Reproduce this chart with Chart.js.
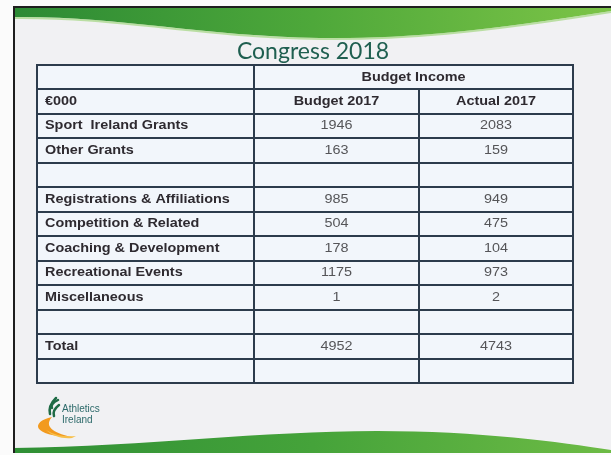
<!DOCTYPE html>
<html>
<head>
<meta charset="utf-8">
<script src="https://cdn.jsdelivr.net/npm/chart.js@4.4.1/dist/chart.umd.min.js"></script>
<style>
  html, body { margin: 0; padding: 0; background: #fbfbfb; }
  canvas { display: block; }
</style>
</head>
<body>
<canvas id="c" width="611" height="455"></canvas>
<script>
// ---------------- DATA ----------------
const chartTitle = 'Congress 2018';
const groupHeader = 'Budget Income';
const unitLabel = '€000';
const seriesNames = ['Budget 2017', 'Actual 2017'];
const categories = [
  'Sport  Ireland Grants',
  'Other Grants',
  '',
  'Registrations & Affiliations',
  'Competition & Related',
  'Coaching & Development',
  'Recreational Events',
  'Miscellaneous',
  '',
  'Total',
  ''
];
const budget2017 = [1946, 163, null, 985, 504, 178, 1175, 1, null, 4952, null];
const actual2017 = [2083, 159, null, 949, 475, 104, 973, 2, null, 4743, null];
const logoText = ['Athletics', 'Ireland'];

// ---------------- LAYOUT (not data) ----------------
const COL_EDGES = [0, 217, 382, 536];   // table column boundaries in table units
const HEADER_ROWS = 2;
const N_ROWS = HEADER_ROWS + categories.length;
const TEXT_STRETCH = 1.2;
const LINE_COLOR = '#2d3c4c';

function colCenter(c) { return (COL_EDGES[c] + COL_EDGES[c + 1]) / 2; }
function toPoints(values, col) {
  const pts = [];
  values.forEach((v, i) => {
    if (v !== null && v !== undefined) pts.push({ x: colCenter(col), y: HEADER_ROWS + i + 0.5, v: v });
  });
  return pts;
}

function stretchedText(ctx, text, x, y, align, sx) {
  ctx.save();
  ctx.translate(x, y);
  ctx.scale(sx, 1);
  ctx.textAlign = align;
  ctx.textBaseline = 'middle';
  ctx.fillText(text, 0, 0);
  ctx.restore();
}

const slidePlugin = {
  id: 'slide',
  beforeDraw(chart) {
    const ctx = chart.ctx;
    const W = chart.width, H = chart.height;
    ctx.save();
    ctx.fillStyle = '#fbfbfb';
    ctx.fillRect(0, 0, W, H);
    // slide body
    ctx.fillStyle = '#f1f1f3';
    ctx.fillRect(14, 7, W - 14, 446);
    // top swoosh
    let g = ctx.createLinearGradient(14, 0, W, 0);
    g.addColorStop(0, '#2c8a34');
    g.addColorStop(0.5, '#4ea83a');
    g.addColorStop(1, '#7cc447');
    ctx.fillStyle = g;
    ctx.beginPath();
    ctx.moveTo(14, 7);
    ctx.lineTo(W, 7);
    ctx.lineTo(W, 11);
    ctx.bezierCurveTo(480, 32, 400, 39, 320, 38);
    ctx.bezierCurveTo(200, 36, 120, 16, 14, 17);
    ctx.closePath();
    ctx.fill();
    // lighter lower edge of top swoosh
    ctx.strokeStyle = 'rgba(150,210,110,0.6)';
    ctx.lineWidth = 2;
    ctx.beginPath();
    ctx.moveTo(W, 12);
    ctx.bezierCurveTo(480, 33, 400, 40, 320, 39);
    ctx.bezierCurveTo(200, 37, 120, 17, 14, 18);
    ctx.stroke();
    // bottom swoosh
    g = ctx.createLinearGradient(14, 0, W, 0);
    g.addColorStop(0, '#2f8f35');
    g.addColorStop(0.5, '#45a33a');
    g.addColorStop(1, '#6dbb45');
    ctx.fillStyle = g;
    ctx.beginPath();
    ctx.moveTo(14, 453);
    ctx.lineTo(14, 448);
    ctx.bezierCurveTo(150, 446, 260, 431, 377, 431);
    ctx.bezierCurveTo(480, 431, 560, 442, W, 450);
    ctx.lineTo(W, 453);
    ctx.closePath();
    ctx.fill();
    // slide frame lines
    ctx.strokeStyle = '#1e1e1e';
    ctx.lineWidth = 2;
    ctx.beginPath();
    ctx.moveTo(14, 453);
    ctx.lineTo(14, 7);
    ctx.lineTo(W, 7);
    ctx.stroke();
    // logo: orange swoosh
    ctx.fillStyle = '#f29a1f';
    ctx.beginPath();
    ctx.moveTo(52, 417);
    ctx.bezierCurveTo(30, 422, 32, 436, 72, 437);
    ctx.bezierCurveTo(58, 434, 42, 428, 52, 417);
    ctx.closePath();
    ctx.fill();
    ctx.fillStyle = '#f7c04a';
    ctx.beginPath();
    ctx.moveTo(46, 430);
    ctx.bezierCurveTo(56, 436, 66, 437, 76, 436);
    ctx.lineTo(72, 438);
    ctx.bezierCurveTo(62, 439, 52, 436, 46, 430);
    ctx.fill();
    // logo: green flame
    ctx.strokeStyle = '#1f6b45';
    ctx.lineWidth = 2.5;
    ctx.lineCap = 'round';
    [[50, 414, 56, 398], [52, 408, 58, 400], [54, 416, 59, 405]].forEach(s => {
      ctx.beginPath();
      ctx.moveTo(s[0], s[1]);
      ctx.quadraticCurveTo(s[0] - 2, (s[1] + s[3]) / 2, s[2], s[3]);
      ctx.stroke();
    });
    ctx.fillStyle = '#2d6a6a';
    ctx.font = '10px "Liberation Sans", Arial, sans-serif';
    ctx.textAlign = 'left';
    ctx.textBaseline = 'alphabetic';
    ctx.fillText(logoText[0], 62, 412);
    ctx.fillText(logoText[1], 62, 423);
    // title
    ctx.fillStyle = '#1f5f50';
    ctx.font = '23px Lato, "Open Sans", sans-serif';
    ctx.textAlign = 'center';
    ctx.fillText(chartTitle, 313, 59);
    // table background
    const a = chart.chartArea;
    ctx.fillStyle = '#f2f6fb';
    ctx.fillRect(a.left, a.top, a.right - a.left, a.bottom - a.top);
    ctx.restore();
  },
  afterDatasetsDraw(chart) {
    const ctx = chart.ctx;
    const xs = chart.scales.x, ys = chart.scales.y;
    const L = xs.getPixelForValue(COL_EDGES[0]);
    const R = xs.getPixelForValue(COL_EDGES[COL_EDGES.length - 1]);
    const T = ys.getPixelForValue(0);
    const B = ys.getPixelForValue(N_ROWS);
    ctx.save();
    ctx.strokeStyle = LINE_COLOR;
    ctx.lineWidth = 2;
    // horizontal lines
    for (let r = 0; r <= N_ROWS; r++) {
      const y = Math.round(ys.getPixelForValue(r));
      ctx.beginPath();
      ctx.moveTo(L - 1, y);
      ctx.lineTo(R + 1, y);
      ctx.stroke();
    }
    // vertical lines
    COL_EDGES.forEach((e, i) => {
      const x = Math.round(xs.getPixelForValue(e));
      const top = (i === 2) ? ys.getPixelForValue(1) : T;
      ctx.beginPath();
      ctx.moveTo(x, top);
      ctx.lineTo(x, B);
      ctx.stroke();
    });
    // header texts
    ctx.fillStyle = '#2e2a30';
    ctx.font = 'bold 12px "Liberation Sans", Arial, sans-serif';
    stretchedText(ctx, groupHeader, xs.getPixelForValue((COL_EDGES[1] + COL_EDGES[3]) / 2), ys.getPixelForValue(0.5), 'center', TEXT_STRETCH);
    stretchedText(ctx, unitLabel, L + 8, ys.getPixelForValue(1.5), 'left', TEXT_STRETCH);
    seriesNames.forEach((n, i) => {
      stretchedText(ctx, n, xs.getPixelForValue(colCenter(i + 1)), ys.getPixelForValue(1.5), 'center', TEXT_STRETCH);
    });
    // category labels
    categories.forEach((c, i) => {
      if (c) stretchedText(ctx, c, L + 8, ys.getPixelForValue(HEADER_ROWS + i + 0.5), 'left', TEXT_STRETCH);
    });
    // values
    ctx.fillStyle = '#555558';
    ctx.font = '12px "Liberation Sans", Arial, sans-serif';
    chart.data.datasets.forEach((ds, d) => {
      const meta = chart.getDatasetMeta(d);
      meta.data.forEach((el, j) => {
        stretchedText(ctx, String(ds.data[j].v), el.x, el.y, 'center', TEXT_STRETCH);
      });
    });
    ctx.restore();
  }
};

new Chart(document.getElementById('c'), {
  type: 'scatter',
  data: {
    datasets: [
      { label: seriesNames[0], data: toPoints(budget2017, 1), pointRadius: 0 },
      { label: seriesNames[1], data: toPoints(actual2017, 2), pointRadius: 0 }
    ]
  },
  options: {
    responsive: false,
    animation: false,
    events: [],
    layout: { padding: { left: 37, right: 38, top: 65, bottom: 72 } },
    scales: {
      x: { type: 'linear', display: false, min: COL_EDGES[0], max: COL_EDGES[COL_EDGES.length - 1] },
      y: { type: 'linear', display: false, min: 0, max: N_ROWS, reverse: true }
    },
    plugins: { legend: { display: false }, tooltip: { enabled: false }, title: { display: false } }
  },
  plugins: [slidePlugin]
});
</script>
</body>
</html>
